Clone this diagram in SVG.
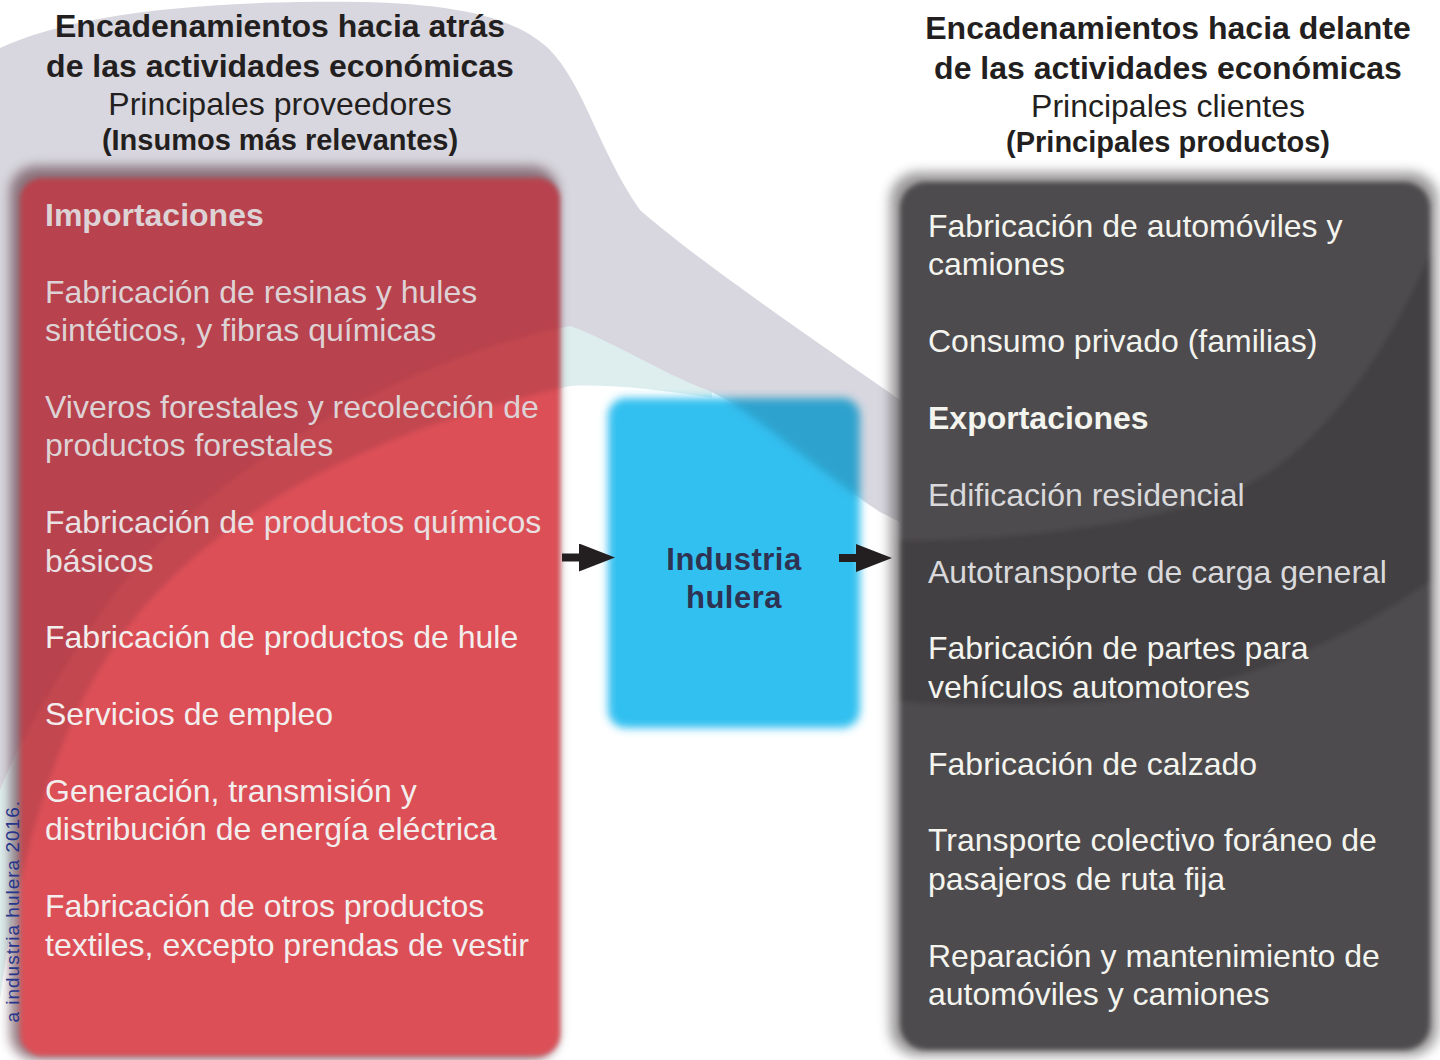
<svg xmlns="http://www.w3.org/2000/svg" width="1440" height="1060" viewBox="0 0 1440 1060">
<style>
  text { font-family: "Liberation Sans", Arial, sans-serif; }
  .hb { font-size: 32px; font-weight: bold; fill: #231f20; text-anchor: middle; }
  .hr { font-size: 32px; fill: #231f20; text-anchor: middle; }
  .hp { font-size: 29px; font-weight: bold; fill: #231f20; text-anchor: middle; }
  .it { font-size: 32px; }
  .b { font-weight: bold; }
  .ld { fill: #ddd2d5; }
  .lm { fill: #e8e0e2; }
  .ll { fill: #f3eeee; }
  .rw { fill: #f4f4ef; }
  .rd { fill: #d9d9db; }
  .conn { stroke: #231f20; stroke-width: 8; fill: none; }
</style>
<defs>
  <path id="swoosh" d="M 0,48 C 60,20 160,4 300,2 C 420,0 505,8 548,48 C 585,85 598,150 640,210 C 700,262 800,330 900,400 L 900,522 L 880,512 C 800,458 745,405 707,390 C 660,372 610,340 570,326 C 440,350 220,450 110,600 C 60,670 25,730 0,790 Z"/>
  <path id="wedge" d="M 570,322 C 610,338 660,370 712,392 L 712,398 C 660,390 610,384 570,386 C 420,420 260,480 150,600 C 60,700 20,850 0,1000 L 0,400 L 570,300 Z"/>
  <clipPath id="clipRed"><rect x="20" y="178" width="540" height="878" rx="22"/></clipPath>
  <clipPath id="clipBlue"><rect x="608" y="398" width="252" height="330" rx="18"/></clipPath>
  <clipPath id="clipDark"><rect x="900" y="182" width="530" height="868" rx="26"/></clipPath>
  <filter id="soft" x="-5%" y="-5%" width="110%" height="110%"><feGaussianBlur stdDeviation="2.5"/></filter>
  <filter id="softBlue" x="-10%" y="-10%" width="120%" height="120%"><feGaussianBlur stdDeviation="4.5"/></filter>
  <filter id="shadow" x="-10%" y="-10%" width="120%" height="120%"><feGaussianBlur stdDeviation="6"/></filter>
  <marker id="head" markerUnits="userSpaceOnUse" markerWidth="36" markerHeight="28" viewBox="0 0 36 28" refX="2" refY="14" orient="auto">
    <path d="M0,0 L36,14 L0,28 Z" fill="#231f20"/>
  </marker>
</defs>

<rect x="0" y="0" width="1440" height="1060" fill="#ffffff"/>

<g id="background">
  <use href="#wedge" fill="#deeeee"/>
  <use href="#swoosh" fill="#d8d7df"/>
</g>

<g id="header-left">
  <text class="hb" x="280" y="37">Encadenamientos hacia atrás</text>
  <text class="hb" x="280" y="77">de las actividades económicas</text>
  <text class="hr" x="280" y="115">Principales proveedores</text>
  <text class="hp" x="280" y="150">(Insumos más relevantes)</text>
</g>

<g id="header-right">
  <text class="hb" x="1168" y="39">Encadenamientos hacia delante</text>
  <text class="hb" x="1168" y="79">de las actividades económicas</text>
  <text class="hr" x="1168" y="117">Principales clientes</text>
  <text class="hp" x="1168" y="152">(Principales productos)</text>
</g>

<g id="node-proveedores">
  <rect x="10" y="166" width="548" height="894" rx="26" fill="#6b4a52" opacity="0.7" filter="url(#shadow)"/>
  <g filter="url(#soft)">
    <rect x="20" y="178" width="540" height="878" rx="22" fill="#dc4f56"/>
    <g clip-path="url(#clipRed)">
      <g opacity="0.12" fill="#10102a"><use href="#wedge"/><use href="#swoosh"/></g>
      <use href="#swoosh" fill="#10102a" opacity="0.06"/>
    </g>
  </g>
  <text class="it b ld" x="45" y="226">Importaciones</text>
  <text class="it ld" x="45" y="302.8">Fabricación de resinas y hules</text>
  <text class="it ld" x="45" y="341.2">sintéticos, y fibras químicas</text>
  <text class="it ld" x="45" y="418">Viveros forestales y recolección de</text>
  <text class="it ld" x="45" y="456.4">productos forestales</text>
  <text class="it lm" x="45" y="533.2">Fabricación de productos químicos</text>
  <text class="it lm" x="45" y="571.6">básicos</text>
  <text class="it ll" x="45" y="648.4">Fabricación de productos de hule</text>
  <text class="it ll" x="45" y="725.2">Servicios de empleo</text>
  <text class="it ll" x="45" y="802">Generación, transmisión y</text>
  <text class="it ll" x="45" y="840.4">distribución de energía eléctrica</text>
  <text class="it ll" x="45" y="917.2">Fabricación de otros productos</text>
  <text class="it ll" x="45" y="955.6">textiles, excepto prendas de vestir</text>
</g>

<g id="source-note">
  <text transform="translate(18.5,800) rotate(-90)" font-size="19" letter-spacing="1" fill="#27358c" text-anchor="end">a industria hulera 2016.</text>
</g>

<g id="node-industria">
  <g filter="url(#softBlue)">
    <rect x="608" y="398" width="252" height="330" rx="18" fill="#33c0f0"/>
    <g clip-path="url(#clipBlue)">
      <use href="#swoosh" fill="#10102a" opacity="0.17"/>
    </g>
  </g>
  <text x="734" y="570" font-size="31" font-weight="bold" fill="#2e3352" text-anchor="middle" letter-spacing="0.5">Industria</text>
  <text x="734" y="608" font-size="31" font-weight="bold" fill="#2e3352" text-anchor="middle" letter-spacing="0.5">hulera</text>
</g>

<g id="node-clientes">
  <rect x="890" y="172" width="548" height="884" rx="28" fill="#5a5759" opacity="0.6" filter="url(#shadow)"/>
  <g filter="url(#soft)">
    <rect x="900" y="182" width="530" height="868" rx="26" fill="#4e4b4d"/>
    <g clip-path="url(#clipDark)">
      <path d="M 890,540 C 1000,542 1150,526 1240,488 C 1320,452 1400,340 1445,215 L 1445,570 C 1380,620 1260,690 1100,702 C 1000,708 940,706 890,700 Z" fill="#000000" opacity="0.13"/>
    </g>
  </g>
  <text class="it rw" x="928" y="237">Fabricación de automóviles y</text>
  <text class="it rw" x="928" y="275.4">camiones</text>
  <text class="it rw" x="928" y="352.2">Consumo privado (familias)</text>
  <text class="it b rw" x="928" y="429">Exportaciones</text>
  <text class="it rd" x="928" y="505.8">Edificación residencial</text>
  <text class="it rd" x="928" y="582.6">Autotransporte de carga general</text>
  <text class="it rw" x="928" y="659.4">Fabricación de partes para</text>
  <text class="it rw" x="928" y="697.8">vehículos automotores</text>
  <text class="it rw" x="928" y="774.6">Fabricación de calzado</text>
  <text class="it rw" x="928" y="851.4">Transporte colectivo foráneo de</text>
  <text class="it rw" x="928" y="889.8">pasajeros de ruta fija</text>
  <text class="it rw" x="928" y="966.6">Reparación y mantenimiento de</text>
  <text class="it rw" x="928" y="1005">automóviles y camiones</text>
</g>

<g id="connectors">
  <line class="conn" x1="562" y1="557.5" x2="581" y2="557.5" marker-end="url(#head)"/>
  <line class="conn" x1="839" y1="558" x2="858" y2="558" marker-end="url(#head)"/>
</g>
</svg>
